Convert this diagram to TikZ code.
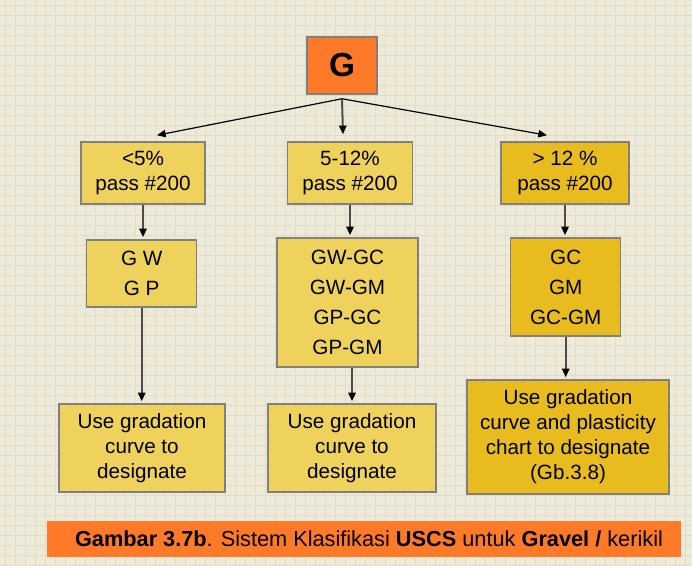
\documentclass[tikz,border=0pt]{standalone}
\usepackage{fontspec}
\setmainfont{Liberation Sans}
\usepackage{tikz}
\usetikzlibrary{calc}
\usetikzlibrary{arrows.meta}
\usetikzlibrary{positioning}

\newlength\pix
\setlength\pix{0.75pt}

\definecolor{paper}{RGB}{238,234,218}
\definecolor{paperline}{RGB}{227,221,199}
\definecolor{sand}{RGB}{238,210,92}
\definecolor{gold}{RGB}{232,188,30}
\definecolor{flame}{RGB}{255,122,40}
\definecolor{rim}{RGB}{128,128,128}

\tikzset{box/.style={rectangle,draw=rim,line width=1.5\pix,inner sep=0pt,align=center,font=\fontsize{15.5}{18.75}\selectfont}}
\tikzset{sieve/.style={box,fill=sand}}
\tikzset{fines/.style={box,fill=gold}}
\tikzset{codes/.style={font=\fontsize{15.5}{22.5}\selectfont}}
\tikzset{fan/.style={draw=black,line width=1.2\pix,-{Triangle[length=6.5pt,width=5.5pt]}}}
\tikzset{drop/.style={draw=black!70,line width=2\pix,-{Triangle[length=6.5pt,width=5.5pt,color=black]},shorten >=1.5pt}}

\begin{document}
\begin{tikzpicture}[x=1\pix,y=-1\pix]
\useasboundingbox (0,0) rectangle (692,565);

% squared paper
\fill[paper] (0,0) rectangle (692,565);
\foreach \gx in {5,15,...,685} {
	\draw[paperline,line width=1\pix] (\gx,0) -- (\gx,565);
}
\foreach \gy in {5,15,...,565} {
	\draw[paperline,line width=1\pix] (0,\gy) -- (692,\gy);
}

\node (G) at (342,65.5) [box,fill=flame,minimum width=70\pix,minimum height=57\pix,font=\fontsize{25}{28}\selectfont\bfseries] {G};

\node (A1) at (143,173) [sieve,minimum width=124\pix,minimum height=62\pix] {<5\%\\pass \#200};
\node (A2) at (350,173) [sieve,minimum width=125\pix,minimum height=62\pix] {5-12\%\\pass \#200};
\node (A3) at (565,173) [fines,minimum width=128\pix,minimum height=62\pix] {> 12 \%\\pass \#200};

\node (B1) at (141.7,273.5) [sieve,codes,minimum width=110\pix,minimum height=67\pix] {G W\\G P};
\node (B2) at (347.5,302.5) [sieve,codes,minimum width=141\pix,minimum height=129\pix] {GW-GC\\GW-GM\\GP-GC\\GP-GM};
\node (B3) at (565.7,287) [fines,codes,minimum width=110\pix,minimum height=98\pix] {GC\\GM\\GC-GM};

\node (C1) at (142,448) [sieve,minimum width=166\pix,minimum height=88\pix] {Use gradation\\curve to\\designate};
\node (C2) at (352,448) [sieve,minimum width=168\pix,minimum height=88\pix] {Use gradation\\curve to\\designate};
\node (C3) at (568,437) [fines,minimum width=202\pix,minimum height=114\pix] {Use gradation\\curve and plasticity\\chart to designate\\(Gb.3.8)};

\node (cap) at (364,539) [rectangle,fill=flame,inner sep=0pt,minimum width=634\pix,minimum height=36\pix,font=\fontsize{16.3}{19}\selectfont] {\hspace*{7.5pt}\textbf{Gambar 3.7b}. Sistem Klasifikasi \textbf{USCS} untuk \textbf{Gravel /} kerikil};

% branches out of G
\coordinate (fork) at ($(G.south)+(0,4)$);
\draw[fan] (fork) -- ($(A1.north)+(14,-6)$);
\draw[fan] (fork) -- ($(A3.north)+(-18,-6)$);
\draw[drop,shorten >=0pt] (fork) -- ($(A2.north)+(-7,-7)$);

\foreach \a/\b in {A1/B1,A2/B2,A3/B3,B1/C1,B3/C3} {
	\draw[drop] (\a.south) -- (\a.south |- \b.north);
}
\draw[drop] (C2.north |- B2.south) -- (C2.north);

\end{tikzpicture}
\end{document}
